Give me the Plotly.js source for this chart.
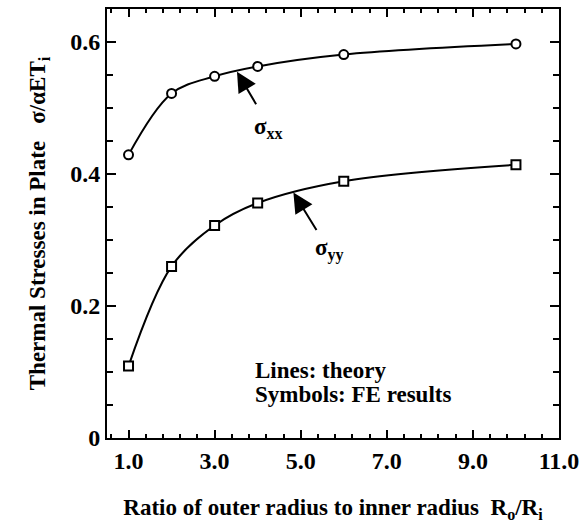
<!DOCTYPE html>
<html>
<head>
<meta charset="utf-8">
<script src="https://cdn.plot.ly/plotly-3.0.1.min.js"></script>
<style>html,body{margin:0;padding:0;background:#fff;}#chart{width:582px;height:525px;}</style>
</head>
<body>
<div id="chart"></div>
<script>
// Ratio of outer radius to inner radius R_o/R_i
const ratio = [1, 2, 3, 4, 6, 10];
// FE results (symbols) and theory (lines) pass through the same values
const sigmaXX = [0.429, 0.522, 0.548, 0.563, 0.581, 0.597];
const sigmaYY = [0.109, 0.260, 0.322, 0.356, 0.389, 0.414];
const xTickVals = [1, 3, 5, 7, 9, 11];
const xTickText = ['1.0', '3.0', '5.0', '7.0', '9.0', '11.0'];
const yTickVals = [0, 0.2, 0.4, 0.6];
const yTickText = ['0', '0.2', '0.4', '0.6'];

const FONT = 'Liberation Serif, Times New Roman, serif';

const traces = [
  {x: ratio, y: sigmaXX, mode: 'lines', line: {shape: 'spline', smoothing: 1, color: '#000', width: 2}, hoverinfo: 'skip', showlegend: false},
  {x: ratio, y: sigmaYY, mode: 'lines', line: {shape: 'spline', smoothing: 1, color: '#000', width: 2}, hoverinfo: 'skip', showlegend: false},
  {x: ratio, y: sigmaXX, mode: 'markers', marker: {symbol: 'circle', size: 9, color: '#fff', line: {color: '#000', width: 2}}, showlegend: false},
  {x: ratio, y: sigmaYY, mode: 'markers', marker: {symbol: 'square', size: 9, color: '#fff', line: {color: '#000', width: 2}}, showlegend: false}
];

const layout = {
  width: 582, height: 525,
  margin: {l: 107, r: 23, t: 9, b: 87},
  paper_bgcolor: '#fff', plot_bgcolor: '#fff',
  font: {family: FONT, color: '#000'},
  showlegend: false,
  xaxis: {
    range: [0.5, 11], tickmode: 'array', tickvals: xTickVals, ticktext: xTickText,
    ticks: 'inside', ticklen: 8, tickwidth: 2, tickcolor: '#000',
    minor: {tick0: 1, dtick: 0.4, ticks: 'inside', ticklen: 4, tickwidth: 2, tickcolor: '#000'},
    showline: true, linewidth: 2, linecolor: '#000', mirror: 'ticks',
    showgrid: false, zeroline: false,
    tickfont: {family: FONT, size: 24, color: '#000', weight: 'bold'},
    title: {text: '<b>Ratio of outer radius to inner radius&nbsp;&nbsp;R<sub>o</sub>/R<sub>i</sub></b>', font: {family: FONT, size: 23, color: '#000'}, standoff: 26}
  },
  yaxis: {
    range: [0, 0.65], tickmode: 'array', tickvals: yTickVals, ticktext: yTickText,
    ticks: 'inside', ticklen: 9, tickwidth: 2, tickcolor: '#000',
    minor: {tick0: 0, dtick: 0.05, ticks: 'inside', ticklen: 6, tickwidth: 2, tickcolor: '#000'},
    showline: true, linewidth: 2, linecolor: '#000', mirror: 'ticks',
    showgrid: false, zeroline: false,
    tickfont: {family: FONT, size: 24, color: '#000', weight: 'bold'},
    title: {text: '<b>Thermal Stresses in Plate&nbsp;&nbsp;&nbsp;σ/αET<sub>i</sub></b>', font: {family: FONT, size: 23, color: '#000'}, standoff: 18}
  },
  annotations: [
    {x: 3.52, y: 0.555, xref: 'x', yref: 'y', text: '', showarrow: true, arrowhead: 2, arrowsize: 2, arrowwidth: 2, arrowcolor: '#000', ax: 20, ay: 34, standoff: 0},
    {x: 4.83, y: 0.372, xref: 'x', yref: 'y', text: '', showarrow: true, arrowhead: 2, arrowsize: 2, arrowwidth: 2, arrowcolor: '#000', ax: 24, ay: 39, standoff: 0},
    {x: 4.25, y: 0.470, xref: 'x', yref: 'y', text: '<b>σ<sub>xx</sub></b>', showarrow: false, font: {family: FONT, size: 23, color: '#000'}},
    {x: 5.66, y: 0.285, xref: 'x', yref: 'y', text: '<b>σ<sub>yy</sub></b>', showarrow: false, font: {family: FONT, size: 23, color: '#000'}},
    {x: 3.9, y: 0.102, xref: 'x', yref: 'y', xanchor: 'left', text: '<b>Lines: theory</b>', showarrow: false, font: {family: FONT, size: 23, color: '#000'}},
    {x: 3.9, y: 0.066, xref: 'x', yref: 'y', xanchor: 'left', text: '<b>Symbols: FE results</b>', showarrow: false, font: {family: FONT, size: 23, color: '#000'}}
  ]
};

Plotly.newPlot('chart', traces, layout, {displayModeBar: false, staticPlot: true});
</script>
</body>
</html>
